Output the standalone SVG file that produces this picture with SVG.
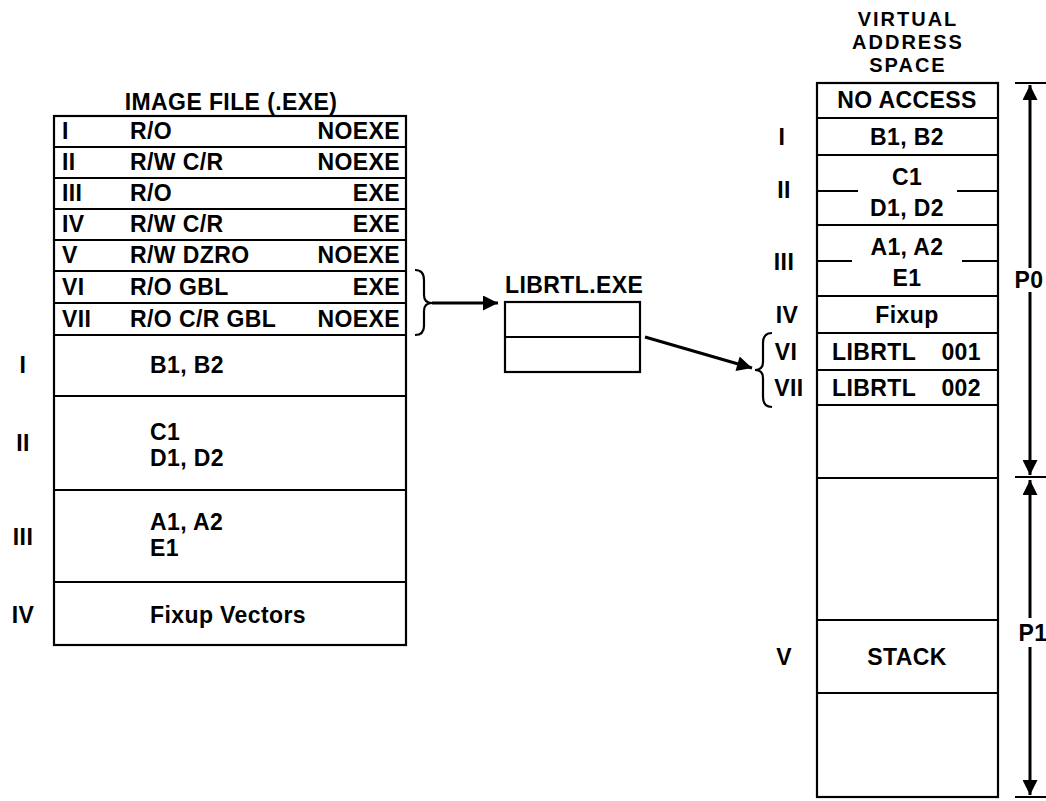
<svg xmlns="http://www.w3.org/2000/svg" width="1046" height="801" viewBox="0 0 1046 801">
<defs>
<style>
text{font-family:"Liberation Sans",Arial,sans-serif;font-weight:bold;font-size:23px;letter-spacing:0.4px;fill:#000}
.m{text-anchor:middle}
.e{text-anchor:end}
.h{font-size:20px;letter-spacing:2px}
.box{fill:#fff;stroke:#000;stroke-width:2.2}
.ln{stroke:#000;stroke-width:2.2;fill:none}
.ar{stroke:#000;stroke-width:3;fill:none}
</style>
<marker id="ah" viewBox="0 0 10 10" refX="10" refY="5" markerWidth="7" markerHeight="5" markerUnits="strokeWidth" orient="auto">
<path d="M0,0 L10,5 L0,10 z" fill="#000"/>
</marker>
</defs>
<rect width="1046" height="801" fill="#fff"/>

<g id="image-file">
<text class="m" x="231" y="110">IMAGE FILE (.EXE)</text>
<rect class="box" x="54" y="116" width="352" height="529"/>
<path class="ln" d="M54,147H406M54,178H406M54,209H406M54,240H406M54,271H406M54,303H406M54,335H406M54,396H406M54,490H406M54,582H406"/>
<text x="62" y="139">I</text><text x="130" y="139">R/O</text><text class="e" x="400" y="139">NOEXE</text>
<text x="62" y="170">II</text><text x="130" y="170">R/W C/R</text><text class="e" x="400" y="170">NOEXE</text>
<text x="62" y="201">III</text><text x="130" y="201">R/O</text><text class="e" x="400" y="201">EXE</text>
<text x="62" y="232">IV</text><text x="130" y="232">R/W C/R</text><text class="e" x="400" y="232">EXE</text>
<text x="62" y="263">V</text><text x="130" y="263">R/W DZRO</text><text class="e" x="400" y="263">NOEXE</text>
<text x="62" y="295">VI</text><text x="130" y="295">R/O GBL</text><text class="e" x="400" y="295">EXE</text>
<text x="62" y="327">VII</text><text x="130" y="327">R/O C/R GBL</text><text class="e" x="400" y="327">NOEXE</text>
<text class="m" x="23" y="373">I</text><text x="150" y="373">B1, B2</text>
<text class="m" x="23" y="451">II</text><text x="150" y="440">C1</text><text x="150" y="466">D1, D2</text>
<text class="m" x="23" y="545">III</text><text x="150" y="530">A1, A2</text><text x="150" y="556">E1</text>
<text class="m" x="23" y="623">IV</text><text x="150" y="623">Fixup Vectors</text>
</g>

<g id="librtl">
<text x="505" y="293">LIBRTL.EXE</text>
<rect class="box" x="505" y="302" width="135" height="70"/>
<path class="ln" d="M505,337H640"/>
</g>

<g id="virtual-address-space">
<text class="m h" x="908" y="26">VIRTUAL</text>
<text class="m h" x="908" y="49">ADDRESS</text>
<text class="m h" x="908" y="72">SPACE</text>
<rect class="box" x="817" y="83" width="181" height="714"/>
<path class="ln" d="M817,118H998M817,155H998M817,225H998M817,296H998M817,333H998M817,370H998M817,405H998M817,478H998M817,620H998M817,693H998"/>
<path class="ln" d="M817,191H858M957,191H998M817,261H852M962,261H998"/>
<text class="m" x="907" y="108">NO ACCESS</text>
<text class="m" x="782" y="145">I</text><text class="m" x="907" y="145">B1, B2</text>
<text class="m" x="784" y="198">II</text><text class="m" x="907" y="185">C1</text><text class="m" x="907" y="216">D1, D2</text>
<text class="m" x="784" y="270">III</text><text class="m" x="907" y="255">A1, A2</text><text class="m" x="907" y="286">E1</text>
<text class="m" x="787" y="323">IV</text><text class="m" x="907" y="323">Fixup</text>
<text class="m" x="786" y="360">VI</text><text x="832" y="360">LIBRTL</text><text class="e" x="981" y="360">001</text>
<text class="m" x="789" y="396">VII</text><text x="832" y="396">LIBRTL</text><text class="e" x="981" y="396">002</text>
<text class="m" x="784" y="665">V</text><text class="m" x="907" y="665">STACK</text>
</g>

<g id="regions">
<path class="ln" d="M1015,83H1046M1015,477H1046M1015,797H1046"/>
<text class="m" x="1029" y="288">P0</text>
<text class="m" x="1033" y="641">P1</text>
</g>

<g id="connectors">
<path class="ln" d="M415,270Q424,270 424,280V295Q424,303 432,303Q424,303 424,311V326Q424,335 415,335"/>
<path class="ar" d="M432,303H498" marker-end="url(#ah)"/>
<path class="ar" d="M645,337L752,368" marker-end="url(#ah)"/>
<path class="ln" d="M772,333Q763,333 763,343V362Q763,370 755,370Q763,370 763,378V397Q763,407 772,407"/>
<path class="ar" d="M1030,268V85" marker-end="url(#ah)"/>
<path class="ar" d="M1030,292V475" marker-end="url(#ah)"/>
<path class="ar" d="M1030,618V480" marker-end="url(#ah)"/>
<path class="ar" d="M1030,647V795" marker-end="url(#ah)"/>
</g>
</svg>
